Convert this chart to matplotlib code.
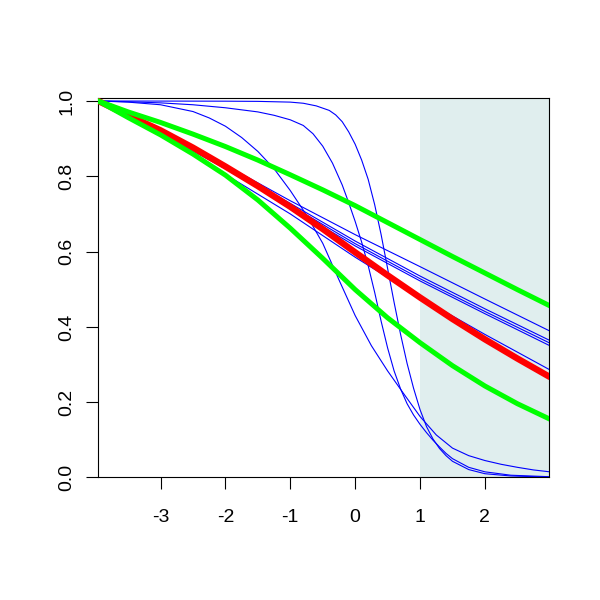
import matplotlib
matplotlib.use("Agg")
from matplotlib import pyplot as plt

plt.rcParams['font.family'] = ['Liberation Sans', 'DejaVu Sans']

# mean curve and the two bounds
x_grid = [-3.96, -3.5, -3.0, -2.5, -2.0, -1.5, -1.0, -0.5, 0.0, 0.5, 1.0, 1.5, 2.0, 2.5, 3.0]
red_y = [1.0, 0.962, 0.922, 0.876, 0.826, 0.774, 0.719, 0.66, 0.598, 0.537, 0.478, 0.421, 0.367, 0.316, 0.267]
green_hi = [1.0, 0.971, 0.943, 0.912, 0.879, 0.843, 0.804, 0.764, 0.722, 0.677, 0.632, 0.587, 0.543, 0.499, 0.456]
green_lo = [1.0, 0.956, 0.91, 0.859, 0.803, 0.737, 0.662, 0.582, 0.499, 0.424, 0.358, 0.297, 0.243, 0.196, 0.155]

# blue bundle near the mean
bundle_x = [-3.96, -3.0, -2.0, -1.0, 0.0, 1.0, 2.0, 3.0]
b1 = [1.0, 0.92, 0.83, 0.735, 0.645, 0.56, 0.474, 0.389]
b2 = [1.0, 0.918, 0.826, 0.728, 0.628, 0.535, 0.448, 0.364]
b3 = [1.0, 0.916, 0.823, 0.723, 0.621, 0.528, 0.441, 0.357]
b4 = [1.0, 0.914, 0.82, 0.718, 0.615, 0.522, 0.435, 0.35]
b5 = [1.0, 0.912, 0.805, 0.70, 0.585, 0.478, 0.38, 0.286]

# steep blue curves
s1_x = [-3.96, -2.0, -1.5, -1.0, -0.8, -0.6, -0.4, -0.3, -0.2, -0.1, 0.0, 0.1, 0.2, 0.3, 0.4,
        0.5, 0.6, 0.7, 0.8, 0.9, 1.0, 1.1, 1.2, 1.3, 1.4, 1.5, 1.75, 2.0, 2.4, 3.0]
s1_y = [1.0, 0.9995, 0.999, 0.997, 0.994, 0.987, 0.975, 0.963, 0.945, 0.918, 0.885, 0.843, 0.792, 0.725, 0.645,
        0.555, 0.465, 0.38, 0.303, 0.237, 0.18, 0.135, 0.102, 0.077, 0.058, 0.043, 0.021, 0.01, 0.004, 0.001]

s2_x = [-3.96, -3.5, -3.0, -2.5, -2.0, -1.5, -1.25, -1.0, -0.8, -0.65, -0.5, -0.35, -0.2, -0.1, 0.0,
        0.1, 0.2, 0.3, 0.4, 0.5, 0.6, 0.7, 0.8, 0.9, 1.0, 1.1, 1.2, 1.3, 1.4, 1.5, 1.75, 2.0, 2.4, 3.0]
s2_y = [1.0, 0.998, 0.995, 0.99, 0.982, 0.971, 0.962, 0.95, 0.935, 0.913, 0.88, 0.835, 0.777, 0.73, 0.68,
        0.625, 0.563, 0.492, 0.415, 0.344, 0.283, 0.235, 0.196, 0.166, 0.141, 0.119, 0.099, 0.081, 0.064, 0.05,
        0.027, 0.015, 0.006, 0.002]

s3_x = [-3.96, -3.5, -3.0, -2.5, -2.25, -2.0, -1.75, -1.5, -1.25, -1.0, -0.75, -0.5, -0.25, 0.0, 0.25,
        0.5, 0.75, 1.0, 1.25, 1.5, 1.75, 2.0, 2.25, 2.5, 2.75, 3.0]
s3_y = [1.0, 0.997, 0.99, 0.972, 0.955, 0.933, 0.903, 0.866, 0.82, 0.762, 0.697, 0.622, 0.525, 0.43, 0.35,
        0.283, 0.222, 0.162, 0.113, 0.078, 0.058, 0.045, 0.035, 0.027, 0.02, 0.015]

x_ticks = [-3, -2, -1, 0, 1, 2]
y_ticks = [0.0, 0.2, 0.4, 0.6, 0.8, 1.0]
y_labels = ['0.0', '0.2', '0.4', '0.6', '0.8', '1.0']
shade_from = 1.0

fig = plt.figure(figsize=(6, 6), dpi=100)
ax = fig.add_axes([0.1638, 0.2042, 0.752, 0.6325])

ax.axvspan(shade_from, 3.0, color='#E0EEEE', lw=0, zorder=0)

for xs, ys in [(bundle_x, b1), (bundle_x, b2), (bundle_x, b3), (bundle_x, b4), (bundle_x, b5),
               (s1_x, s1_y), (s2_x, s2_y), (s3_x, s3_y)]:
    ax.plot(xs, ys, color='#0000FF', lw=0.8, zorder=2)

ax.plot(x_grid, red_y, color='#FF0000', lw=4.6, solid_capstyle='round', zorder=3)
ax.plot(x_grid, green_hi, color='#00FF00', lw=3.6, solid_capstyle='round', zorder=4)
ax.plot(x_grid, green_lo, color='#00FF00', lw=3.6, solid_capstyle='round', zorder=4)

ax.set_xlim(-3.96, 2.995)
ax.set_ylim(0, 1.008)
ax.set_xticks(x_ticks)
ax.set_xticklabels([str(t) for t in x_ticks])
ax.set_yticks(y_ticks)
ax.set_yticklabels(y_labels, rotation=90, va='center')

for s in ax.spines.values():
    s.set_linewidth(0.8)
ax.tick_params(axis='both', direction='out', length=8.6, width=0.8, labelsize=14)
ax.tick_params(axis='x', pad=14)
ax.tick_params(axis='y', pad=8)

fig.savefig('out.png', dpi=100)
